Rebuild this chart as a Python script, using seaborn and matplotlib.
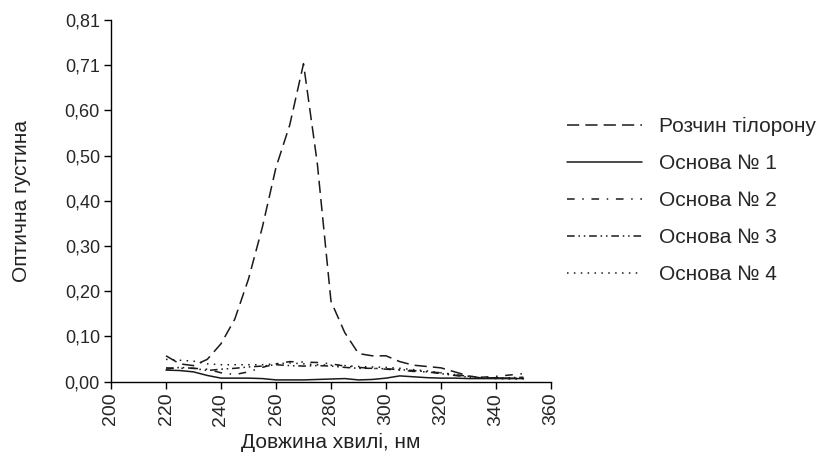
import numpy as np
import pandas as pd
import matplotlib
matplotlib.use("Agg")
import matplotlib.pyplot as plt
import seaborn as sns

wavelength = [220, 225, 230, 235, 240, 245, 250, 255, 260, 265, 270, 275, 280, 285,
              290, 295, 300, 305, 310, 315, 320, 325, 330, 335, 340, 345, 350]

tiloron = [0.058, 0.040, 0.036, 0.050, 0.085, 0.140, 0.230, 0.345, 0.480, 0.575, 0.712, 0.490,
           0.180, 0.110, 0.063, 0.058, 0.058, 0.045, 0.037, 0.034, 0.031, 0.022, 0.013, 0.008,
           0.009, 0.008, 0.007]
osnova1 = [0.026, 0.025, 0.022, 0.014, 0.008, 0.008, 0.008, 0.007, 0.004, 0.004, 0.004, 0.005,
           0.006, 0.007, 0.004, 0.005, 0.008, 0.013, 0.011, 0.009, 0.008, 0.008, 0.007, 0.007,
           0.007, 0.007, 0.007]
osnova2 = [0.031, 0.030, 0.030, 0.028, 0.020, 0.016, 0.022, 0.032, 0.040, 0.045, 0.044, 0.043,
           0.040, 0.035, 0.032, 0.030, 0.028, 0.026, 0.023, 0.022, 0.020, 0.016, 0.012, 0.010,
           0.012, 0.015, 0.018]
osnova3 = [0.028, 0.032, 0.030, 0.025, 0.028, 0.030, 0.033, 0.035, 0.038, 0.036, 0.035, 0.036,
           0.035, 0.032, 0.030, 0.030, 0.029, 0.027, 0.025, 0.022, 0.018, 0.014, 0.010, 0.008,
           0.008, 0.009, 0.010]
osnova4 = [0.050, 0.048, 0.046, 0.040, 0.038, 0.038, 0.038, 0.038, 0.040, 0.042, 0.040, 0.038,
           0.037, 0.036, 0.034, 0.033, 0.032, 0.030, 0.027, 0.024, 0.020, 0.016, 0.012, 0.009,
           0.007, 0.006, 0.006]

series_names = ["Розчин тілорону", "Основа № 1", "Основа № 2", "Основа № 3", "Основа № 4"]
x_ticks = [200, 220, 240, 260, 280, 300, 320, 340, 360]
y_tick_labels = ["0,00", "0,10", "0,20", "0,30", "0,40", "0,50", "0,60", "0,71", "0,81"]
x_label = "Довжина хвилі, нм"
y_label = "Оптична густина"

series_values = [tiloron, osnova1, osnova2, osnova3, osnova4]
df = pd.concat([pd.DataFrame({"wl": wavelength, "od": v, "series": n})
                for n, v in zip(series_names, series_values)], ignore_index=True)

sns.set_style("white")
plt.rcParams["font.family"] = ["Liberation Sans", "DejaVu Sans"]

fig = plt.figure(figsize=(8.24, 4.74), dpi=100)
ax = fig.add_axes([111/824, 1-381.7/474, 440/824, 361.7/474])

dash_map = {
    "Розчин тілорону": (8, 4),
    "Основа № 1": "",
    "Основа № 2": (5, 5, 1, 5),
    "Основа № 3": (5, 2.5, 1, 2.5, 1, 2.5),
    "Основа № 4": (1, 3.5),
}
sns.lineplot(data=df, x="wl", y="od", style="series", style_order=series_names,
             dashes=dash_map, color="#1a1a1a", linewidth=1.1, ax=ax, legend=True)

ax.set_xlim(200, 360)
ax.set_ylim(0, 0.81)
ax.set_xticks(x_ticks)
ax.set_xticklabels([str(t) for t in x_ticks], rotation=90, fontsize=14)
yt = np.linspace(0, 0.81, len(y_tick_labels))
ax.set_yticks(yt)
ax.set_yticklabels(y_tick_labels, fontsize=13)
ax.tick_params(axis="both", direction="out", length=5, width=1, color="black", pad=3,
               bottom=True, left=True)
for s in ["top", "right"]:
    ax.spines[s].set_visible(False)
for s in ["left", "bottom"]:
    ax.spines[s].set_color("black")
    ax.spines[s].set_linewidth(1.0)

ax.set_xlabel(x_label, fontsize=15, labelpad=5, color="#222222")
ax.set_ylabel(y_label, fontsize=15, labelpad=24, color="#222222")

handles, labels = ax.get_legend_handles_labels()
ax.legend(handles, labels, loc="upper left", bbox_to_anchor=(548/824, 1-98/474),
          bbox_transform=fig.transFigure, frameon=False, fontsize=15,
          handlelength=3.6, handletextpad=0.85, labelspacing=0.87)

fig.savefig("out.png", dpi=100)
